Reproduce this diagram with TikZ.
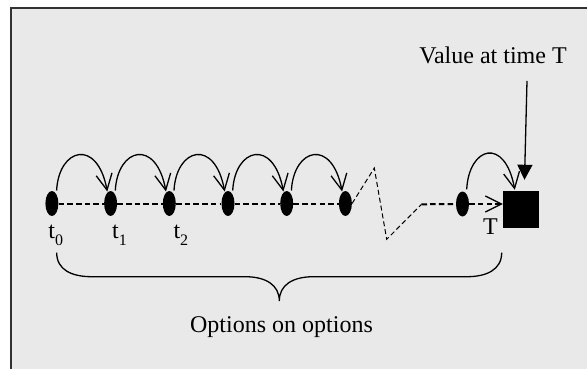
\documentclass[tikz,border=0pt]{standalone}
\usepackage{fontspec}
\setmainfont{Liberation Serif}
\usetikzlibrary{arrows.meta,shapes.geometric,calc}
\definecolor{panel}{RGB}{233,233,233}
\definecolor{rim}{RGB}{50,50,50}
\newcommand\tsub[1]{\raisebox{-7pt}{\fontsize{16}{16}\selectfont #1}}
\begin{document}
\begin{tikzpicture}[x=1pt,y=-1pt,
  dot/.style={ellipse,fill=black,minimum width=13pt,minimum height=25pt,inner sep=0pt},
  lbl/.style={font=\fontsize{24}{26}\selectfont,inner sep=0pt,anchor=base west},
  ttl/.style={font=\fontsize{24}{26}\selectfont,inner sep=0pt,anchor=base},
  hop/.style={line width=1.3pt,-{Straight Barb[length=16pt,width=16pt,line width=1.3pt]}},
  track/.style={line width=2pt,dash pattern=on 5.5pt off 3.2pt},
  zig/.style={line width=1pt,dash pattern=on 5pt off 3pt}]
\useasboundingbox (0,0) rectangle (587,369);
\fill[white] (0,0) rectangle (587,369);
\fill[panel] (11,8.3) rectangle (587,369);
\draw[rim,line width=2pt] (11,369) -- (11,8.3) -- (587,8.3);

% time points
\foreach \i/\x in {0/51.9,1/110.6,2/169.3,3/228,4/286.7,5/345.4}
  \node[dot] (e\i) at (\x,203.5) {};
\node[dot] (e6) at (462.5,204) {};
\node[fill=black,minimum width=36pt,minimum height=37pt,inner sep=0pt] (sq) at (521,209.5) {};

% dashed track
\foreach \i/\j in {0/1,1/2,2/3,3/4,4/5}
  \draw[track] (e\i.east) -- (e\j.west);
\coordinate (z1) at (374.3,168);
\coordinate (z2) at (386.7,239.3);
\coordinate (z3) at (421.5,204.3);
\draw[zig] (e5.east) -- (z1) -- (z2) -- (z3);
\draw[track] (z3) -- (e6.west);
\draw[track,-{Straight Barb[length=16pt,width=16pt,line width=1.3pt]}] (e6.east) -- (e6.east -| sq.west);

% hops
\foreach \i/\j in {0/1,1/2,2/3,3/4,4/5}
  \draw[hop] ($(e\i.center)+(4.7,-13)$) .. controls +(2.3,-42.7) and +(-10,-53.7) .. ($(e\j.center)+(-3.3,-12)$);
\draw[hop] ($(e6.center)+(4.2,-14.7)$) .. controls +(2.3,-42.7) and +(-10,-53.7) .. ($(sq.north west)+(12,-1)$);

% value arrow
\node[ttl] (val) at (493,64) {Value at time T};
\coordinate (vtop) at (527,81);
\draw[line width=1.3pt,-{Triangle[length=15pt,width=15pt]}] (vtop) -- ($(sq.north)+(3.5,-11)$);

% labels
\node[lbl] (t0) at (48.3,238.3) {t\tsub{0}};
\node[lbl] (t1) at (112,238.3) {t\tsub{1}};
\node[lbl] (t2) at (173.3,238.3) {t\tsub{2}};
\node[lbl] (tT) at (483,234) {T};

% brace
\draw[line width=1.3pt] (56.7,252.7) .. controls (56.7,270) and (72,276.7) .. (91.7,276.7)
  -- (245,276.7) .. controls (266,276.7) and (279.3,285) .. (279.3,301)
  .. controls (279.3,285) and (292.6,276.7) .. (313.6,276.7)
  -- (467,276.7) .. controls (486,276.7) and (501.7,270) .. (501.7,252.7);
\node[ttl] (opt) at (281.5,332.3) {Options on options};
\end{tikzpicture}
\end{document}
